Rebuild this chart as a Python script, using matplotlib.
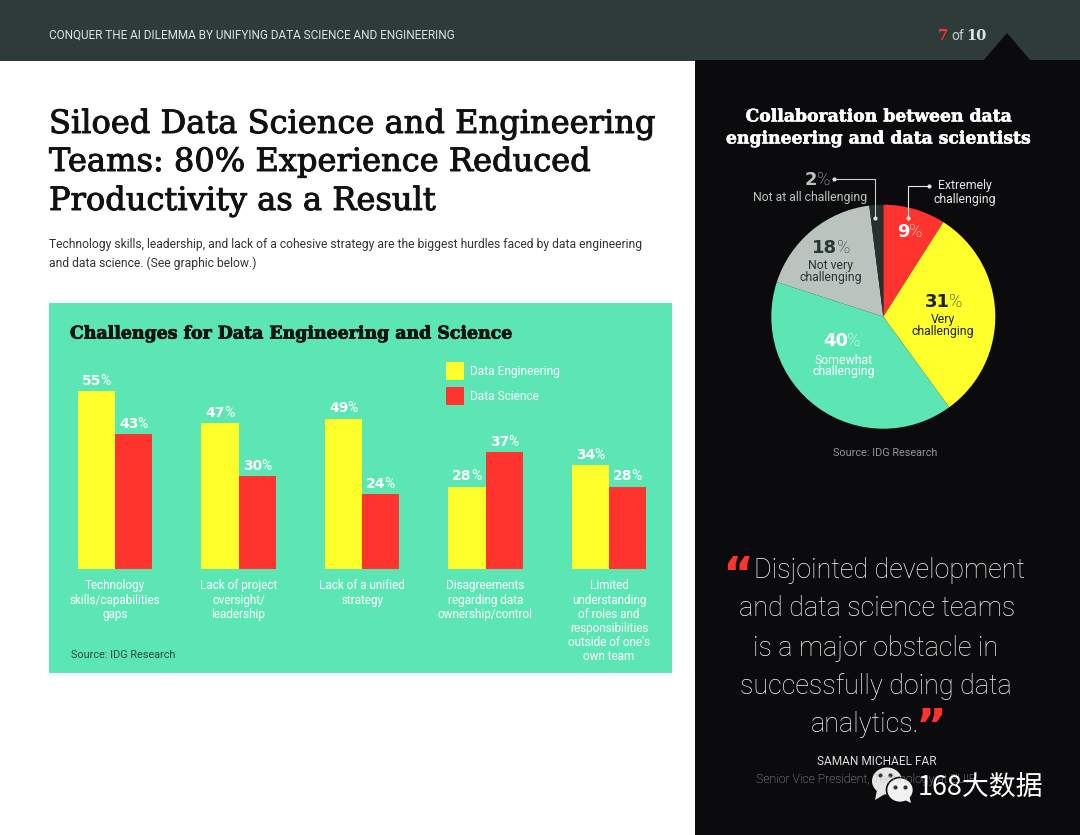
import matplotlib
matplotlib.use("Agg")
import numpy as np
import matplotlib.pyplot as plt
import matplotlib.patheffects as pe
from matplotlib.patches import Ellipse, Polygon, Rectangle

# Bar chart data
categories = [
    "Technology\nskills/capabilities\ngaps",
    "Lack of project\noversight/\nleadership",
    "Lack of a unified\nstrategy",
    "Disagreements\nregarding data\nownership/control",
    "Limited\nunderstanding\nof roles and\nresponsibilities\noutside of one's\nown team",
]
engineering_labels = [55, 47, 49, 28, 34]
science_labels = [43, 30, 24, 37, 28]
# bar heights as drawn in the picture (they do not quite follow the labels)
engineering_heights = [57.4, 47.1, 48.4, 26.5, 33.5]
science_heights = [43.5, 30.0, 24.2, 37.7, 26.5]

# Pie data
pie_values = [9, 31, 40, 18, 2]
pie_colors = ["#FF342E", "#FFFF2B", "#5CE6B4", "#B9C4BF", "#26312F"]

YELLOW = "#FFFF2B"
RED = "#FF342E"
MINT = "#5CE6B4"
BLACK = "#0B0B0D"
HEADER = "#2E3B39"
INK = "#1E2322"
W, H = 1080, 835

LIGHT = "Roboto"
SLAB = "DejaVu Serif"
BLOCK = "DejaVu Sans"


def px_rect(x0, y0, x1, y1):
    return [x0 / W, 1 - y1 / H, (x1 - x0) / W, (y1 - y0) / H]


def pixel_axes(zorder):
    a = fig.add_axes([0, 0, 1, 1], zorder=zorder)
    a.set_xlim(0, W)
    a.set_ylim(H, 0)
    a.axis("off")
    return a


fig = plt.figure(figsize=(W / 100, H / 100), dpi=100, facecolor="white")

# page background, pixel coordinates
page = pixel_axes(0)
page.add_patch(Rectangle((0, 0), W, 60.5, color=HEADER, lw=0))
page.add_patch(Rectangle((695, 60), 385, 775, color=BLACK, lw=0))
page.add_patch(Polygon([(983, 61), (1007, 33), (1031, 61)], color=BLACK, lw=0))

# text layer over the charts
over = pixel_axes(2)


def txt(x, y, s, size, color, family=LIGHT, weight="normal", ha="center", stroke=0, **kw):
    t = over.text(x, y, s, fontsize=size, color=color, family=family,
                  weight=weight, ha=ha, va="center", **kw)
    if stroke:
        t.set_path_effects([pe.withStroke(linewidth=stroke, foreground=color)])
    return t


def pct(x, y, num, size, color):
    # bold number with a thin percent sign, split around x
    txt(x + 5, y, str(num), size, color, family=BLOCK, weight="bold", ha="right")
    txt(x + 4.5, y, "%", size, color, weight="light", ha="left")


# header
txt(49, 35, "CONQUER THE AI DILEMMA BY UNIFYING DATA SCIENCE AND ENGINEERING",
    8.45, "#DDE3E0", ha="left")
txt(943, 36, "7", 10.5, RED, family=SLAB, weight="bold")
txt(958, 36, "of", 10, "#C8D0CC")
txt(976, 36, "10", 10.5, "#DDE3E0", family=SLAB, weight="bold")

# headline
for y, line in zip([124.5, 162.5, 201.5], ["Siloed Data Science and Engineering",
                                           "Teams: 80% Experience Reduced",
                                           "Productivity as a Result"]):
    txt(49, y, line, 23.1, "#111111", family=SLAB, ha="left", stroke=0.7)
txt(49, 244.5, "Technology skills, leadership, and lack of a cohesive strategy are the biggest hurdles faced by data engineering",
    8.72, "#333333", ha="left")
txt(49, 263.5, "and data science. (See graphic below.)", 8.72, "#333333", ha="left")

# bar chart panel: 1 category = 123.5 px, 1 % = 3.1 px
ax = fig.add_axes(px_rect(49, 303, 672, 673), zorder=1, facecolor=MINT)
ax.set_xlim((49 - 115) / 123.5, (672 - 115) / 123.5)
ax.set_ylim((569 - 673) / 3.1, (569 - 303) / 3.1)
for side in ax.spines.values():
    side.set_visible(False)
ax.set_xticks([])
ax.set_yticks([])

x = np.arange(len(categories))
bar_w = 0.3
b1 = ax.bar(x - bar_w / 2, engineering_heights, bar_w, color=YELLOW, label="Data Engineering")
b2 = ax.bar(x + bar_w / 2, science_heights, bar_w, color=RED, label="Data Science")


def bar_labels(bars, labels):
    for bar, value in zip(bars, labels):
        cx = bar.get_x() + bar.get_width() / 2
        top = bar.get_height()
        ax.annotate(str(value), (cx, top), xytext=(3.5, 2.5), textcoords="offset points",
                    ha="right", va="bottom", fontsize=10, color="white",
                    family=BLOCK, weight="bold")
        ax.annotate("%", (cx, top), xytext=(3, 2.5), textcoords="offset points",
                    ha="left", va="bottom", fontsize=10, color="white",
                    family=LIGHT, weight="normal")


bar_labels(b1, engineering_labels)
bar_labels(b2, science_labels)

for xi, cat in zip(x, categories):
    ax.annotate(cat, (xi, 0), xytext=(0, -7.5), textcoords="offset points", ha="center",
                va="top", fontsize=8.5, color="white", family=LIGHT, linespacing=1.12)

ax.legend(loc="upper left", bbox_to_anchor=((446 - 49) / 623, 1 - (362 - 303) / 370),
          frameon=False, labelcolor="white", handlelength=1.48, handleheight=1.9,
          handletextpad=0.49, labelspacing=0.65, borderpad=0, borderaxespad=0,
          prop={"family": LIGHT, "size": 8.6})

# pie chart
cx, cy, r = 883.3, 316.7, 112
pie_ax = fig.add_axes(px_rect(cx - r, cy - r, cx + r, cy + r), zorder=1)
pie_ax.pie(pie_values, colors=pie_colors, startangle=90, counterclock=False,
           radius=1, wedgeprops={"linewidth": 0})
pie_ax.set_xlim(-1, 1)
pie_ax.set_ylim(-1, 1)

txt(70, 334, "Challenges for Data Engineering and Science", 12.5, "#101412",
    family=SLAB, weight="bold", ha="left", stroke=0.6)
txt(71, 655.5, "Source: IDG Research", 7.8, "#2E4A40", ha="left")

txt(879, 117, "Collaboration between data", 12.4, "white", family=SLAB, weight="bold", stroke=0.4)
txt(879, 139, "engineering and data scientists", 12.4, "white", family=SLAB, weight="bold", stroke=0.4)

# leaders
over.plot([834, 875, 875], [179, 179, 218], color="#C8D0CC", lw=0.8)
over.plot([834, 875], [179, 218], ls="none", marker="o", ms=2, color="#DDE3E0")
over.plot([929, 908, 908], [186, 186, 218], color="#E4E8E6", lw=0.8)
over.plot([929, 908], [186, 218], ls="none", marker="o", ms=2, color="#E4E8E6")

pct(812, 180, 2, 13, "#B9C4BF")
txt(810, 198, "Not at all challenging", 8.8, "#B9C4BF")
txt(965, 186, "Extremely", 8.8, "#E4E8E6")
txt(965, 200, "challenging", 8.8, "#E4E8E6")
pct(905, 232, 9, 13, "white")
pct(945, 302, 31, 13, INK)
txt(943, 320, "Very", 8.8, INK)
txt(943, 332, "challenging", 8.8, INK)
pct(843, 341, 40, 13, "white")
txt(844, 360, "Somewhat", 8.8, "white")
txt(844, 372, "challenging", 8.8, "white")
pct(832, 248, 18, 13, "#2A3634")
txt(831, 266, "Not very", 8.8, "#2A3634")
txt(831, 278, "challenging", 8.8, "#2A3634")
txt(885, 453.5, "Source: IDG Research", 7.8, "#8E9794")

# quote
quote_lines = ["Disjointed development", "and data science teams", "is a major obstacle in",
               "successfully doing data", "analytics."]
for (qx, qy), line in zip([(889, 571), (877, 609), (876, 648), (876, 686), (865, 724)], quote_lines):
    txt(qx, qy, line, 19.4, "#F7F8F7", weight="light")
txt(738, 578, "\u201c", 34, RED, family=BLOCK, weight="bold")
txt(931, 729, "\u201d", 34, RED, family=BLOCK, weight="bold")
txt(877, 761.5, "SAMAN MICHAEL FAR", 8.6, "#DADDDB", weight="normal")
txt(756, 779.5, "Senior Vice President, Technology at EUIR", 8.8, "#B4B8B6", weight="light", ha="left")

# watermark
over.add_patch(Ellipse((887, 781), 30, 27, color="#E6E6E6", lw=0))
over.add_patch(Polygon([(877, 790), (875, 800), (885, 794)], color="#E6E6E6", lw=0))
over.add_patch(Ellipse((900, 790), 27, 25, facecolor="#F2F2F2", edgecolor=BLACK, lw=1.2))
over.add_patch(Polygon([(905, 800), (911, 803), (909, 795)], color="#F2F2F2", lw=0))
over.plot([895, 905], [787, 787], ls="none", marker="o", ms=2, color="#333333")
over.plot([880, 890], [775, 775], ls="none", marker="o", ms=2, color="#333333")
txt(918, 787, "168大数据", 19.4, "white", family=["Noto Sans CJK SC", "DejaVu Sans"], ha="left")

fig.savefig("out.png", dpi=100)
